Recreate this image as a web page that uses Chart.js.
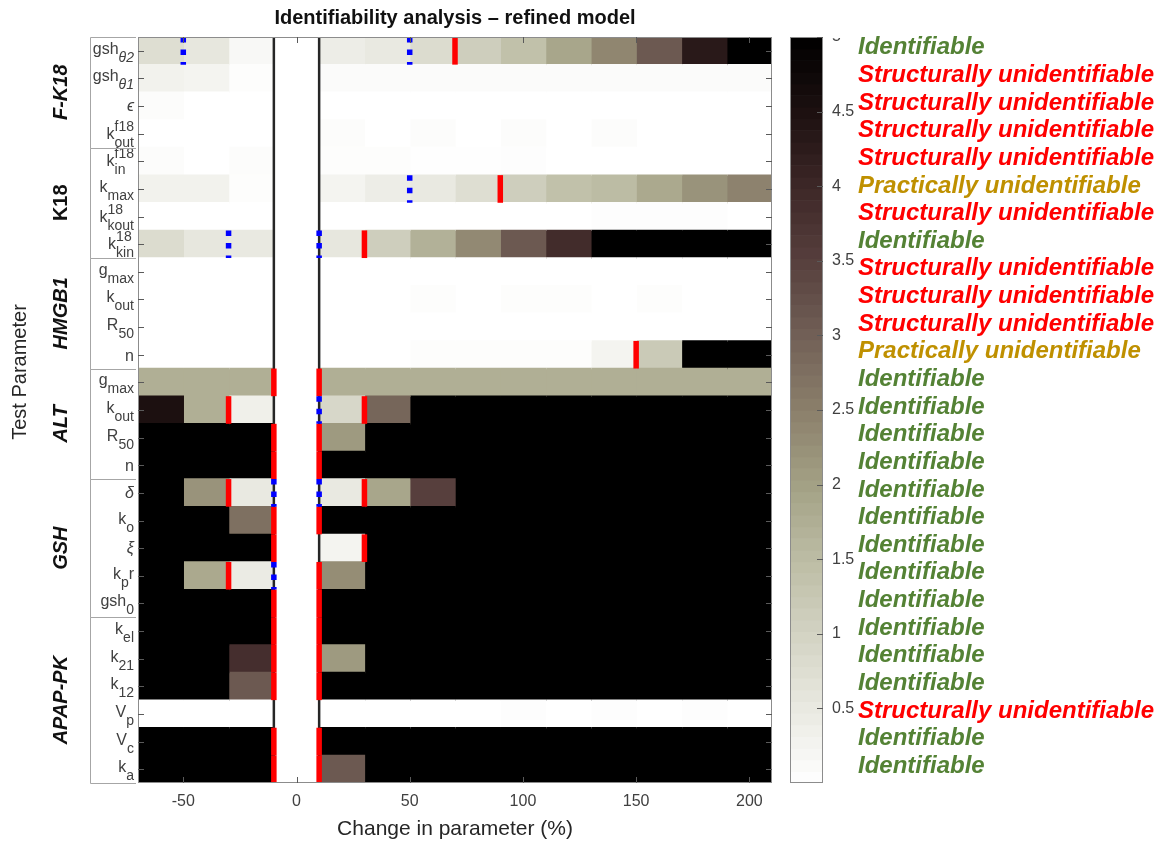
<!DOCTYPE html>
<html>
<head>
<meta charset="utf-8">
<title>Identifiability analysis – refined model</title>
<script src="https://cdn.jsdelivr.net/npm/chart.js@4.4.1/dist/chart.umd.min.js"></script>
<style>
  html, body { margin: 0; padding: 0; background: #ffffff; }
  #wrap { width: 1175px; height: 845px; position: relative; }
</style>
</head>
<body>
<div id="wrap"><canvas id="chart" width="1175" height="845"></canvas></div>
<script>
// ---------- axes ----------
const columnCenters = [-60, -40, -20, 0, 20, 40, 60, 80, 100, 120, 140, 160, 180, 200];
const xTicks = [-50, 0, 50, 100, 150, 200];
const referenceBand = [-10, 10];
const colorbarTicks = [0.5, 1, 1.5, 2, 2.5, 3, 3.5, 4, 4.5, 5];

// ---------- parameter groups ----------
const groupNames = ['F-K18', 'K18', 'HMGB1', 'ALT', 'GSH', 'APAP-PK'];
const groupItalic = [true, false, true, true, true, true];

// label parts: [base, subscript, superscript, tail]
const fK18Labels = [['gsh', 'θ2', '', ''], ['gsh', 'θ1', '', ''], ['ϵ', '', '', ''], ['k', 'out', 'f18', '']];
const k18Labels = [['k', 'in', 'f18', ''], ['k', 'max', '', ''], ['k', 'kout', '18', ''], ['k', 'kin', '18', '']];
const hmgb1Labels = [['g', 'max', '', ''], ['k', 'out', '', ''], ['R', '50', '', ''], ['n', '', '', '']];
const altLabels = [['g', 'max', '', ''], ['k', 'out', '', ''], ['R', '50', '', ''], ['n', '', '', '']];
const gshLabels = [['δ', '', '', ''], ['k', 'o', '', ''], ['ξ', '', '', ''], ['k', 'p', '', 'r'], ['gsh', '0', '', '']];
const apapLabels = [['k', 'el', '', ''], ['k', '21', '', ''], ['k', '12', '', ''], ['V', 'p', '', ''], ['V', 'c', '', ''], ['k', 'a', '', '']];

// cell values per row, one entry per column centre
const fK18Values = [
  [0.75, 0.55, 0.15, 0, 0.4, 0.5, 0.8, 1.1, 1.4, 1.9, 2.4, 3.1, 4.3, 5],
  [0.3, 0.25, 0.05, 0, 0.08, 0.08, 0.08, 0.08, 0.08, 0.08, 0.08, 0.08, 0.08, 0.08],
  [0.06, 0, 0, 0, 0, 0, 0, 0, 0, 0, 0, 0, 0, 0],
  [0, 0, 0, 0, 0.07, 0, 0.07, 0, 0.06, 0, 0.07, 0, 0, 0]
];
const k18Values = [
  [0.06, 0, 0.06, 0, 0.05, 0.05, 0.02, 0.02, 0.04, 0, 0, 0, 0, 0],
  [0.3, 0.3, 0.05, 0, 0.25, 0.4, 0.5, 0.75, 1.1, 1.4, 1.5, 1.85, 2.2, 2.45],
  [0, 0, 0, 0, 0, 0, 0, 0, 0, 0, 0.04, 0.04, 0.04, 0],
  [0.8, 0.55, 0.5, 0, 0.55, 1.1, 1.7, 2.35, 3.1, 3.9, 5, 5, 5, 5]
];
const hmgb1Values = [
  [0, 0, 0, 0, 0, 0, 0, 0, 0, 0, 0, 0, 0, 0],
  [0, 0, 0, 0, 0, 0, 0.05, 0, 0.05, 0.05, 0, 0.05, 0, 0],
  [0, 0, 0, 0, 0, 0, 0, 0, 0, 0, 0, 0, 0, 0],
  [0, 0, 0, 0, 0, 0, 0.05, 0.05, 0.05, 0.05, 0.25, 1.2, 5, 5]
];
const altValues = [
  [1.75, 1.75, 1.75, 0, 1.75, 1.75, 1.75, 1.75, 1.75, 1.75, 1.75, 1.75, 1.75, 1.75],
  [4.5, 1.75, 0.35, 0, 0.9, 2.9, 5, 5, 5, 5, 5, 5, 5, 5],
  [5, 5, 5, 0, 2.1, 5, 5, 5, 5, 5, 5, 5, 5, 5],
  [5, 5, 5, 0, 5, 5, 5, 5, 5, 5, 5, 5, 5, 5]
];
const gshValues = [
  [5, 2.2, 0.5, 0, 0.5, 1.9, 3.5, 5, 5, 5, 5, 5, 5, 5],
  [5, 5, 2.75, 0, 5, 5, 5, 5, 5, 5, 5, 5, 5, 5],
  [5, 5, 5, 0, 0.25, 5, 5, 5, 5, 5, 5, 5, 5, 5],
  [5, 1.85, 0.45, 0, 2.3, 5, 5, 5, 5, 5, 5, 5, 5, 5],
  [5, 5, 5, 0, 5, 5, 5, 5, 5, 5, 5, 5, 5, 5]
];
const apapValues = [
  [5, 5, 5, 0, 5, 5, 5, 5, 5, 5, 5, 5, 5, 5],
  [5, 5, 3.85, 0, 2.1, 5, 5, 5, 5, 5, 5, 5, 5, 5],
  [5, 5, 3.1, 0, 5, 5, 5, 5, 5, 5, 5, 5, 5, 5],
  [0, 0, 0, 0, 0, 0, 0, 0, 0.04, 0, 0.04, 0, 0.04, 0],
  [5, 5, 5, 0, 5, 5, 5, 5, 5, 5, 5, 5, 5, 5],
  [5, 5, 5, 0, 3.1, 5, 5, 5, 5, 5, 5, 5, 5, 5]
];

// threshold crossings (red) and confidence limits (blue), x positions per row
const fK18Red = [[70], [], [], []];
const fK18Blue = [[-50, 50], [], [], []];
const k18Red = [[], [90], [], [30]];
const k18Blue = [[], [50], [], [-30, 10]];
const hmgb1Red = [[], [], [], [150]];
const hmgb1Blue = [[], [], [], []];
const altRed = [[-10, 10], [-30, 30], [-10, 10], [-10, 10]];
const altBlue = [[], [10], [], []];
const gshRed = [[-30, 30], [-10, 10], [-10, 30], [-30, 10], [-10, 10]];
const gshBlue = [[-10, 10], [], [], [-10], []];
const apapRed = [[-10, 10], [-10, 10], [-10, 10], [], [-10, 10], [-10, 10]];
const apapBlue = [[], [], [], [], [], []];

// verdict per parameter
const fK18Status = ['Identifiable', 'Structurally unidentifiable', 'Structurally unidentifiable', 'Structurally unidentifiable'];
const k18Status = ['Structurally unidentifiable', 'Practically unidentifiable', 'Structurally unidentifiable', 'Identifiable'];
const hmgb1Status = ['Structurally unidentifiable', 'Structurally unidentifiable', 'Structurally unidentifiable', 'Practically unidentifiable'];
const altStatus = ['Identifiable', 'Identifiable', 'Identifiable', 'Identifiable'];
const gshStatus = ['Identifiable', 'Identifiable', 'Identifiable', 'Identifiable', 'Identifiable'];
const apapStatus = ['Identifiable', 'Identifiable', 'Identifiable', 'Structurally unidentifiable', 'Identifiable', 'Identifiable'];

// colour map from 0 (white) to 5 (black)
const colorStops = ['#ffffff', '#e9e9e1', '#d3d3c3', '#bcbca4', '#a3a185', '#8b7f6b',
                    '#716056', '#573f3d', '#3d2727', '#1c1010', '#000000'];
const colorMin = 0, colorMax = 5;

// ---------- assembled rows ----------
const paramLabels = [].concat(fK18Labels, k18Labels, hmgb1Labels, altLabels, gshLabels, apapLabels);
const cellValues = [].concat(fK18Values, k18Values, hmgb1Values, altValues, gshValues, apapValues);
const redMarks = [].concat(fK18Red, k18Red, hmgb1Red, altRed, gshRed, apapRed);
const blueMarks = [].concat(fK18Blue, k18Blue, hmgb1Blue, altBlue, gshBlue, apapBlue);
const statusText = [].concat(fK18Status, k18Status, hmgb1Status, altStatus, gshStatus, apapStatus);
const groupSizes = [fK18Labels, k18Labels, hmgb1Labels, altLabels, gshLabels, apapLabels].map(g => g.length);
const rowKeys = paramLabels.map(p => p.join(''));

const FONT = '"Liberation Sans", Arial, Helvetica, sans-serif';
const statusColors = {
  'Identifiable': '#548235',
  'Structurally unidentifiable': '#ff0000',
  'Practically unidentifiable': '#bf9000'
};

function hexToRgb(h) {
  return [parseInt(h.slice(1, 3), 16), parseInt(h.slice(3, 5), 16), parseInt(h.slice(5, 7), 16)];
}
function colorFor(v) {
  const t = (Math.max(colorMin, Math.min(colorMax, v)) - colorMin) / (colorMax - colorMin);
  const p = t * (colorStops.length - 1);
  const i = Math.min(Math.floor(p), colorStops.length - 2);
  const f = p - i;
  const a = hexToRgb(colorStops[i]), b = hexToRgb(colorStops[i + 1]);
  const c = a.map((av, k) => Math.round(av + (b[k] - av) * f));
  return `rgb(${c[0]},${c[1]},${c[2]})`;
}

const halfStep = (columnCenters[1] - columnCenters[0]) / 2;
const datasets = columnCenters.map((c, j) => ({
  label: String(c),
  data: cellValues.map(() => [c - halfStep, c + halfStep]),
  backgroundColor: cellValues.map(row => colorFor(row[j])),
  borderWidth: 0,
  inflateAmount: 0.7,
  grouped: false,
  barPercentage: 1,
  categoryPercentage: 1
}));

const isGreek = s => /[\u0370-\u03ff\u03f5]/.test(s);

function drawParamLabel(ctx, parts, xRight, yc) {
  const [base, sub, sup, tail] = parts;
  const mainSize = 16, smallSize = 14;
  const mainFont = s => `${isGreek(s) ? 'italic ' : ''}${mainSize}px ${FONT}`;
  const smallFont = s => `${isGreek(s) ? 'italic ' : ''}${smallSize}px ${FONT}`;
  ctx.font = mainFont(base); const wb = ctx.measureText(base).width;
  ctx.font = smallFont(sub); const ws = sub ? ctx.measureText(sub).width : 0;
  ctx.font = smallFont(sup); const wp = sup ? ctx.measureText(sup).width : 0;
  ctx.font = mainFont(tail); const wt = tail ? ctx.measureText(tail).width : 0;
  const total = wb + Math.max(ws, wp) + wt;
  const x = xRight - total;
  let baseline = yc + 6;
  if (sub && sup) baseline = yc + 5;
  else if (sub) baseline = yc + 3;
  else if (isGreek(base)) baseline = yc + 5;
  ctx.textBaseline = 'alphabetic';
  ctx.textAlign = 'left';
  ctx.font = mainFont(base); ctx.fillText(base, x, baseline);
  if (sub) { ctx.font = smallFont(sub); ctx.fillText(sub, x + wb, baseline + 8); }
  if (sup) { ctx.font = smallFont(sup); ctx.fillText(sup, x + wb, baseline - 8); }
  if (tail) { ctx.font = mainFont(tail); ctx.fillText(tail, x + wb + Math.max(ws, wp), baseline); }
}

const decorPlugin = {
  id: 'decor',
  afterDatasetsDraw(chart) {
    const { ctx, chartArea: a, scales: { x, y } } = chart;
    const rowH = Math.abs(y.getPixelForValue(1) - y.getPixelForValue(0));
    ctx.save();

    // edges of the unperturbed band
    ctx.strokeStyle = '#262626';
    ctx.lineWidth = 2.5;
    referenceBand.forEach(v => {
      const px = x.getPixelForValue(v);
      ctx.beginPath(); ctx.moveTo(px, a.top); ctx.lineTo(px, a.bottom); ctx.stroke();
    });

    // red threshold markers
    ctx.fillStyle = '#ff0000';
    redMarks.forEach((list, i) => {
      const yc = y.getPixelForValue(i);
      list.forEach(v => {
        const px = x.getPixelForValue(v);
        ctx.fillRect(px - 2.75, yc - rowH / 2, 5.5, rowH);
      });
    });

    // blue dotted markers
    ctx.strokeStyle = '#0000ff';
    ctx.lineWidth = 5.5;
    ctx.lineCap = 'butt';
    ctx.setLineDash([5.5, 7]);
    blueMarks.forEach((list, i) => {
      const yc = y.getPixelForValue(i);
      list.forEach(v => {
        const px = x.getPixelForValue(v);
        ctx.beginPath(); ctx.moveTo(px, yc - rowH / 2); ctx.lineTo(px, yc + rowH / 2); ctx.stroke();
      });
    });
    ctx.setLineDash([]);

    // frame
    ctx.strokeStyle = '#8c8c8c';
    ctx.lineWidth = 1;
    ctx.strokeRect(a.left + 0.5, a.top + 0.5, a.right - a.left - 1, a.bottom - a.top - 1);

    // inward ticks
    ctx.strokeStyle = '#5a5a5a';
    ctx.beginPath();
    xTicks.forEach(v => {
      const px = Math.round(x.getPixelForValue(v)) + 0.5;
      ctx.moveTo(px, a.bottom); ctx.lineTo(px, a.bottom - 6);
      ctx.moveTo(px, a.top); ctx.lineTo(px, a.top + 6);
    });
    rowKeys.forEach((k, i) => {
      const py = Math.round(y.getPixelForValue(i)) + 0.5;
      ctx.moveTo(a.left, py); ctx.lineTo(a.left + 6, py);
      ctx.moveTo(a.right, py); ctx.lineTo(a.right - 6, py);
    });
    ctx.stroke();
    ctx.restore();
  },
  afterDraw(chart) {
    const { ctx, chartArea: a, scales: { y, cb } } = chart;
    const rowH = Math.abs(y.getPixelForValue(1) - y.getPixelForValue(0));
    const midX = (a.left + a.right) / 2;
    ctx.save();

    // title
    ctx.fillStyle = '#111111';
    ctx.font = `bold 20px ${FONT}`;
    ctx.textAlign = 'center';
    ctx.textBaseline = 'middle';
    ctx.fillText('Identifiability analysis – refined model', midX, 18);

    // axis titles
    ctx.fillStyle = '#262626';
    ctx.font = `21px ${FONT}`;
    ctx.fillText('Change in parameter (%)', midX, 829);
    ctx.font = `20px ${FONT}`;
    ctx.save();
    ctx.translate(20, 372);
    ctx.rotate(-Math.PI / 2);
    ctx.fillText('Test Parameter', 0, 0);
    ctx.restore();

    // parameter labels
    ctx.fillStyle = '#404040';
    paramLabels.forEach((p, i) => drawParamLabel(ctx, p, a.left - 4, y.getPixelForValue(i)));

    // group brackets and names
    let start = 0;
    groupSizes.forEach((n, g) => {
      const top = y.getPixelForValue(start) - rowH / 2;
      const bottom = y.getPixelForValue(start + n - 1) + rowH / 2;
      ctx.strokeStyle = '#a6a6a6';
      ctx.lineWidth = 1;
      ctx.beginPath();
      ctx.moveTo(a.left - 2, Math.round(top) + 0.5); ctx.lineTo(90.5, Math.round(top) + 0.5);
      ctx.lineTo(90.5, Math.round(bottom) + 0.5); ctx.lineTo(a.left - 2, Math.round(bottom) + 0.5);
      ctx.stroke();
      ctx.save();
      ctx.translate(61, (top + bottom) / 2);
      ctx.rotate(-Math.PI / 2);
      ctx.fillStyle = '#111111';
      ctx.font = `${groupItalic[g] ? 'italic ' : ''}bold 20px ${FONT}`;
      ctx.textAlign = 'center';
      ctx.textBaseline = 'middle';
      ctx.fillText(groupNames[g], 0, 0);
      ctx.restore();
      start += n;
    });

    // colour bar
    const cbLeft = 790, cbRight = 823;
    const cbTop = cb.getPixelForValue(colorMax), cbBottom = cb.getPixelForValue(colorMin);
    const steps = 64;
    for (let s = 0; s < steps; s++) {
      const v0 = colorMin + (colorMax - colorMin) * s / steps;
      const v1 = colorMin + (colorMax - colorMin) * (s + 1) / steps;
      const yTop = cb.getPixelForValue(v1), yBot = cb.getPixelForValue(v0);
      ctx.fillStyle = colorFor((v0 + v1) / 2);
      ctx.fillRect(cbLeft, yTop, cbRight - cbLeft, yBot - yTop + 0.6);
    }
    ctx.strokeStyle = '#8c8c8c';
    ctx.lineWidth = 1;
    ctx.strokeRect(cbLeft + 0.5, cbTop + 0.5, cbRight - cbLeft - 1, cbBottom - cbTop - 1);
    ctx.strokeStyle = '#5a5a5a';
    ctx.beginPath();
    colorbarTicks.forEach(v => {
      const py = Math.round(cb.getPixelForValue(v)) + 0.5;
      ctx.moveTo(cbRight, py); ctx.lineTo(cbRight - 6, py);
    });
    ctx.stroke();
    ctx.save();
    ctx.beginPath();
    ctx.rect(cbRight, cbTop + 1, 60, cbBottom - cbTop);
    ctx.clip();
    ctx.fillStyle = '#404040';
    ctx.font = `16px ${FONT}`;
    ctx.textAlign = 'left';
    ctx.textBaseline = 'middle';
    colorbarTicks.forEach(v => ctx.fillText(String(v), 832, cb.getPixelForValue(v)));
    ctx.restore();

    // verdicts
    ctx.font = `italic bold 24px ${FONT}`;
    ctx.textAlign = 'left';
    ctx.textBaseline = 'middle';
    statusText.forEach((t, i) => {
      ctx.fillStyle = statusColors[t];
      ctx.fillText(t, 858, y.getPixelForValue(i) - 3);
    });
    ctx.restore();
  }
};

new Chart(document.getElementById('chart'), {
  type: 'bar',
  data: { labels: rowKeys, datasets },
  options: {
    responsive: false,
    animation: false,
    devicePixelRatio: 1,
    indexAxis: 'y',
    layout: { padding: { top: 37, right: 403, bottom: 0, left: 0 } },
    plugins: { legend: { display: false }, tooltip: { enabled: false }, title: { display: false } },
    scales: {
      x: {
        type: 'linear',
        min: -70,
        max: 210,
        afterBuildTicks: s => { s.ticks = xTicks.map(v => ({ value: v })); },
        afterFit: s => { s.height = 62; },
        grid: { display: false, drawTicks: false },
        border: { display: false },
        ticks: { padding: 9, color: '#404040', font: { size: 16, family: FONT }, maxRotation: 0 }
      },
      y: {
        type: 'category',
        labels: rowKeys,
        afterFit: s => { s.width = 138; },
        grid: { display: false, drawTicks: false },
        border: { display: false },
        ticks: { display: false }
      },
      cb: {
        type: 'linear',
        position: 'right',
        min: colorMin,
        max: colorMax,
        offset: false,
        afterFit: s => { s.width = 0; },
        grid: { display: false, drawTicks: false, offset: false },
        border: { display: false },
        ticks: { display: false }
      }
    }
  },
  plugins: [decorPlugin]
});
</script>
</body>
</html>
